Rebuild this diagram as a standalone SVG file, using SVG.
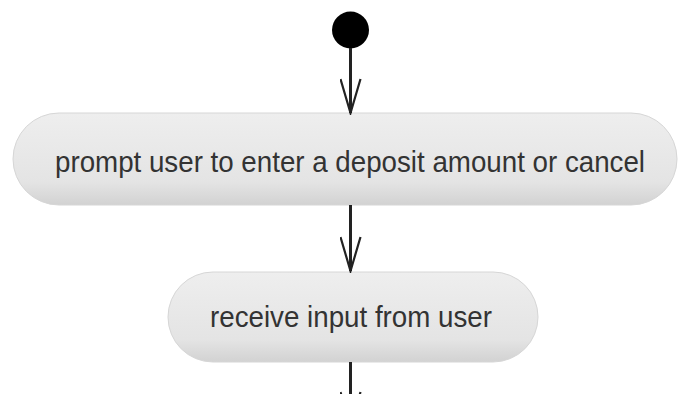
<svg xmlns="http://www.w3.org/2000/svg" width="680" height="394" viewBox="0 0 680 394">
  <defs>
    <linearGradient id="boxfill" x1="0" y1="0" x2="0" y2="1">
      <stop offset="0" stop-color="#eeeeee"/>
      <stop offset="0.75" stop-color="#e4e4e4"/>
      <stop offset="1" stop-color="#d2d2d2"/>
    </linearGradient>
    <marker id="open" viewBox="0 0 37 22" refX="35" refY="11" markerWidth="37" markerHeight="22" markerUnits="userSpaceOnUse" orient="auto">
      <path d="M1,1 L35,11 L1,21" fill="none" stroke="#222" stroke-width="2.2"/>
    </marker>
  </defs>
  <style>
    .box { fill: url(#boxfill); stroke: #d6d6d6; stroke-width: 1; }
    .label { font-family: "Liberation Sans", Arial, sans-serif; font-size: 29px; fill: #333333; text-anchor: middle; }
    .conn { stroke: #222; stroke-width: 3; fill: none; }
  </style>
  <rect width="680" height="394" fill="#ffffff"/>
  <g id="start">
    <circle cx="350.5" cy="30" r="18.5" fill="#000000"/>
  </g>
  <g id="prompt">
    <rect class="box" x="13" y="113" width="664" height="92" rx="46" ry="46"/>
    <text class="label" x="350" y="172" textLength="590" lengthAdjust="spacingAndGlyphs">prompt user to enter a deposit amount or cancel</text>
  </g>
  <g id="receive">
    <rect class="box" x="168" y="272" width="370" height="90" rx="45" ry="45"/>
    <text class="label" x="351" y="327" textLength="282" lengthAdjust="spacingAndGlyphs">receive input from user</text>
  </g>
  <g id="connectors">
    <line class="conn" x1="350.5" y1="48" x2="350.5" y2="113" marker-end="url(#open)"/>
    <line class="conn" x1="350.5" y1="205" x2="350.5" y2="271" marker-end="url(#open)"/>
    <line class="conn" x1="350.5" y1="362" x2="350.5" y2="426" marker-end="url(#open)"/>
  </g>
</svg>
